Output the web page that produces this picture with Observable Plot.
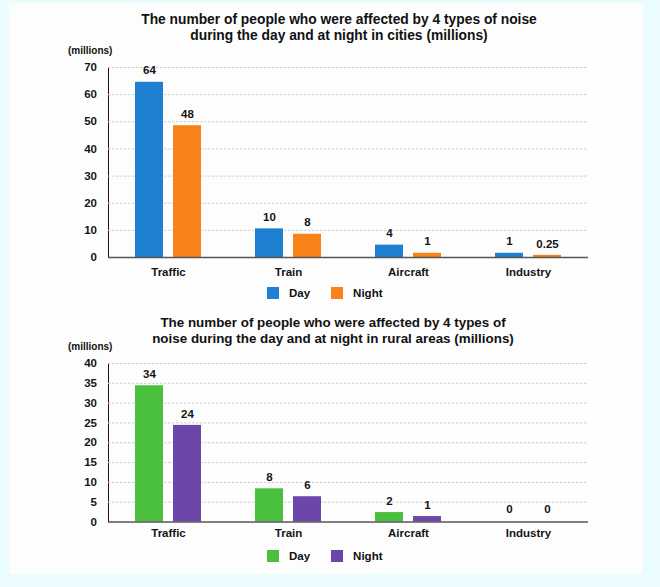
<!DOCTYPE html>
<html>
<head>
<meta charset="utf-8">
<script src="https://cdn.jsdelivr.net/npm/d3@7"></script>
<script src="https://cdn.jsdelivr.net/npm/@observablehq/plot@0.6"></script>
<style>
  body { margin: 0; background: #eafcfd; font-family: "Liberation Sans", Arial, sans-serif; }
  #page { position: relative; width: 660px; height: 587px; overflow: hidden; background: #eafcfd; }
  #panel { position: absolute; left: 9px; top: 3px; width: 634px; height: 571px; background: #fdfdfd; }
  .title { position: absolute; width: 600px; text-align: center; font-weight: bold; font-size: 13.8px; color: #111; }
  .unit { position: absolute; left: 68px; font-weight: bold; font-size: 10px; color: #111; line-height: 12px; }
  .legend { position: absolute; left: 267px; height: 14px; display: flex; align-items: center; font-weight: bold; font-size: 11.5px; color: #111; }
  .sw { display: inline-block; width: 12px; height: 12px; margin-right: 10px; }
  .plot { position: absolute; left: 0; }
</style>
</head>
<body>
<div id="page">
  <div id="panel"></div>
  <div class="title" style="left:39px; top:12px; line-height:16px;">The number of people who were affected by 4 types of noise<br>during the day and at night in cities (millions)</div>
  <div class="unit" style="top:45px;">(millions)</div>
  <div class="plot" id="cityPlot" style="top:57px;"></div>
  <div class="legend" id="cityLegend" style="top:286px;"></div>

  <div class="title" style="left:33px; top:315px; line-height:15.6px; font-size:13.4px;">The number of people who were affected by 4 types of<br>noise during the day and at night in rural areas (millions)</div>
  <div class="unit" style="top:341px;">(millions)</div>
  <div class="plot" id="ruralPlot" style="top:353px;"></div>
  <div class="legend" id="ruralLegend" style="top:549px;"></div>
</div>
<script>
// ---- data ----
const categories = ["Traffic", "Train", "Aircraft", "Industry"];
const periods = ["Day", "Night"];
const cityDay = [64, 10, 4, 1];
const cityNight = [48, 8, 1, 0.25];
const ruralDay = [34, 8, 2, 0];
const ruralNight = [24, 6, 1, 0];
const cityTicks = [0, 10, 20, 30, 40, 50, 60, 70];
const ruralTicks = [0, 5, 10, 15, 20, 25, 30, 35, 40];
const cityColors = ["#1f80d2", "#f88318"];
const ruralColors = ["#4bbf3e", "#6c47aa"];

function rowsOf(day, night) {
  const rows = [];
  categories.forEach((c, i) => {
    rows.push({category: c, period: "Day", value: day[i]});
    rows.push({category: c, period: "Night", value: night[i]});
  });
  return rows;
}

function chart(rows, ticks, colors, height, tickPad) {
  const max = ticks[ticks.length - 1];
  return Plot.plot({
    width: 620,
    height: height,
    marginLeft: 108,
    marginRight: 32,
    marginTop: 10,
    marginBottom: 30,
    style: {fontFamily: "Liberation Sans, Arial, sans-serif", fontSize: "11.5px", fontWeight: "bold", color: "#151515", background: "transparent", overflow: "visible"},
    fx: {domain: categories, padding: 0, label: null, tickSize: 0, tickPadding: tickPad, axis: "bottom"},
    x: {domain: periods, paddingInner: 0.256, paddingOuter: 0.667, axis: null},
    y: {domain: [0, max], ticks: ticks, tickSize: 0, tickPadding: 11.5, label: null, line: true},
    color: {domain: periods, range: colors},
    marks: [
      Plot.ruleY(ticks.filter(t => t > 0), {stroke: "#cfcfcf", strokeDasharray: "2.5,1.5", strokeWidth: 1}),
      Plot.barY(rows, {filter: d => d.value > 0, fx: "category", x: "period", y: "value", fill: "period", insetTop: -1.5}),
      Plot.text(rows, {fx: "category", x: "period", y: "value", text: d => String(d.value), dy: -13, lineAnchor: "middle", fontSize: 11.5, fontWeight: "bold", fill: "#151515"}),
      Plot.ruleY([0], {stroke: "#555", strokeWidth: 1.5})
    ]
  });
}

function legend(el, colors) {
  periods.forEach((p, i) => {
    const sw = document.createElement("span");
    sw.className = "sw";
    sw.style.background = colors[i];
    const t = document.createElement("span");
    t.textContent = p;
    t.style.marginRight = i === 0 ? "21px" : "0";
    el.appendChild(sw);
    el.appendChild(t);
  });
}

const cityPlot = chart(rowsOf(cityDay, cityNight), cityTicks, cityColors, 230, 10);
document.getElementById("cityPlot").appendChild(cityPlot);
const ruralPlot = chart(rowsOf(ruralDay, ruralNight), ruralTicks, ruralColors, 198.5, 7.2);
document.getElementById("ruralPlot").appendChild(ruralPlot);
legend(document.getElementById("cityLegend"), cityColors);
legend(document.getElementById("ruralLegend"), ruralColors);
document.querySelectorAll("svg [aria-label='y-axis'] line, svg [aria-label='y-axis'] path").forEach(n => n.setAttribute("stroke", "#666"));
</script>
</body>
</html>
